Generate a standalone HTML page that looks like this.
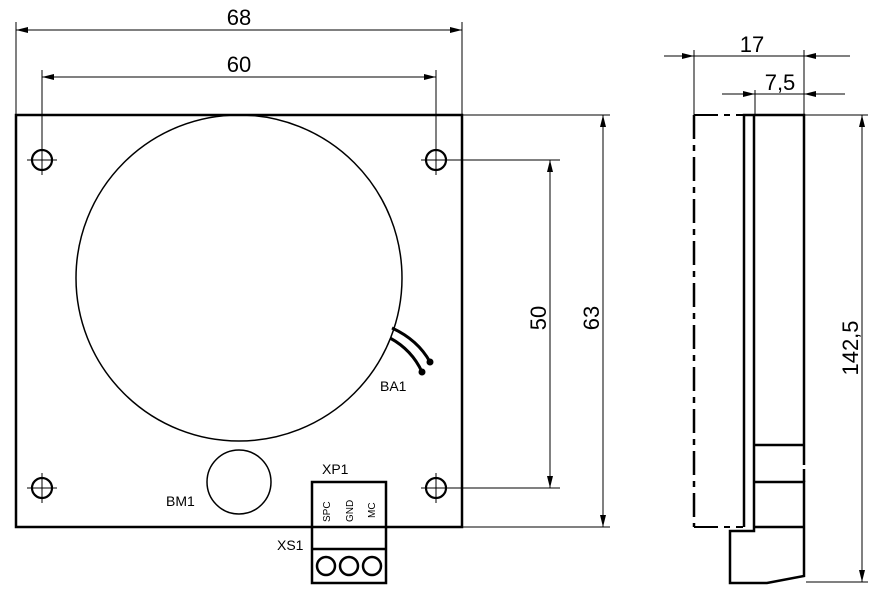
<!DOCTYPE html>
<html><head><style>body{margin:0;background:#fff}svg{display:block}text{font-family:"Liberation Sans",sans-serif;fill:#000}</style></head><body>
<svg width="883" height="602" viewBox="0 0 883 602" xmlns="http://www.w3.org/2000/svg">
<defs>
<marker id="a" viewBox="0 0 12 8" refX="12" refY="4" markerWidth="12" markerHeight="8" markerUnits="userSpaceOnUse" orient="auto-start-reverse"><path d="M0,1 L12,4 L0,7 z"/></marker>
</defs>
<g stroke="#000" fill="none">
<rect x="16" y="115" width="446" height="412" stroke-width="2.5"/>
<circle cx="239" cy="278" r="163" stroke-width="1.5"/>
<circle cx="239" cy="482" r="32" stroke-width="1.5"/>
<g stroke-width="2.2">
<circle cx="42" cy="160" r="10"/><circle cx="436" cy="160" r="10"/>
<circle cx="42" cy="488" r="10"/><circle cx="436" cy="488" r="10"/>
</g>
<g stroke-width="1">
<path d="M27,160H57M42,145V175M421,160H560M436,70V175M27,488H57M42,473V503M421,488H560M436,473V503"/>
<path d="M42,70V145"/>
<path d="M16,22V115M462,22V115"/>
<line x1="16" y1="30" x2="462" y2="30" marker-start="url(#a)" marker-end="url(#a)"/>
<line x1="42" y1="77" x2="436" y2="77" marker-start="url(#a)" marker-end="url(#a)"/>
<line x1="550" y1="160" x2="550" y2="488" marker-start="url(#a)" marker-end="url(#a)"/>
<path d="M462,115H610M462,527H610"/>
<line x1="603" y1="115" x2="603" y2="527" marker-start="url(#a)" marker-end="url(#a)"/>
</g>
<path d="M392,328 Q418,340 430,362" stroke-width="3"/>
<path d="M390,338 Q412,350 422,372" stroke-width="3"/>
<circle cx="430" cy="362" r="3" fill="#000"/><circle cx="422" cy="372" r="3" fill="#000"/>
<g stroke-width="2.5">
<rect x="312" y="482" width="74" height="101"/>
<path d="M312,549H386"/>
<circle cx="326" cy="566" r="9"/><circle cx="349" cy="566" r="9"/><circle cx="372" cy="566" r="9"/>
</g>
<path d="M694,115H743M694,527H743" stroke-width="2" stroke-dasharray="24,6,6,6"/>
<path d="M694,115V527" stroke-width="2.5" stroke-dasharray="24,6,6,6"/>
<g stroke-width="2.5">
<path d="M744,527V115H804V445M754,115V531H730V583H767L804,576V527M754,445H804M754,482H804V527M754,527H804"/>
<path d="M804,445V482" stroke-dasharray="20,4"/>
</g>
<g stroke-width="1">
<path d="M694,50V115M804,50V115M755,90V115M804,115H868M806,582H868"/>
<line x1="664" y1="56" x2="694" y2="56" marker-end="url(#a)"/>
<line x1="850" y1="56" x2="804" y2="56" marker-end="url(#a)"/>
<line x1="694" y1="56" x2="804" y2="56"/>
<line x1="722" y1="94" x2="755" y2="94" marker-end="url(#a)"/>
<line x1="845" y1="94" x2="804" y2="94" marker-end="url(#a)"/>
<line x1="755" y1="94" x2="804" y2="94"/>
<line x1="862" y1="115" x2="862" y2="582" marker-start="url(#a)" marker-end="url(#a)"/>
</g>
</g>
<text x="239" y="25" font-size="22" text-anchor="middle">68</text>
<text x="239" y="72" font-size="22" text-anchor="middle">60</text>
<text transform="translate(546,318) rotate(-90)" font-size="22" text-anchor="middle">50</text>
<text transform="translate(599,318) rotate(-90)" font-size="22" text-anchor="middle">63</text>
<text x="752" y="52" font-size="22" text-anchor="middle">17</text>
<text x="780" y="90" font-size="22" text-anchor="middle">7,5</text>
<text transform="translate(858,348) rotate(-90)" font-size="22" text-anchor="middle">142,5</text>
<text x="380" y="391" font-size="14">BA1</text>
<text x="166" y="506" font-size="14">BM1</text>
<text x="322" y="474" font-size="14">XP1</text>
<text x="277" y="550" font-size="14">XS1</text>
<text transform="translate(330,522) rotate(-90)" font-size="10">SPC</text>
<text transform="translate(353,522) rotate(-90)" font-size="10">GND</text>
<text transform="translate(375,518) rotate(-90)" font-size="10">MC</text>
</svg>
</body></html>
